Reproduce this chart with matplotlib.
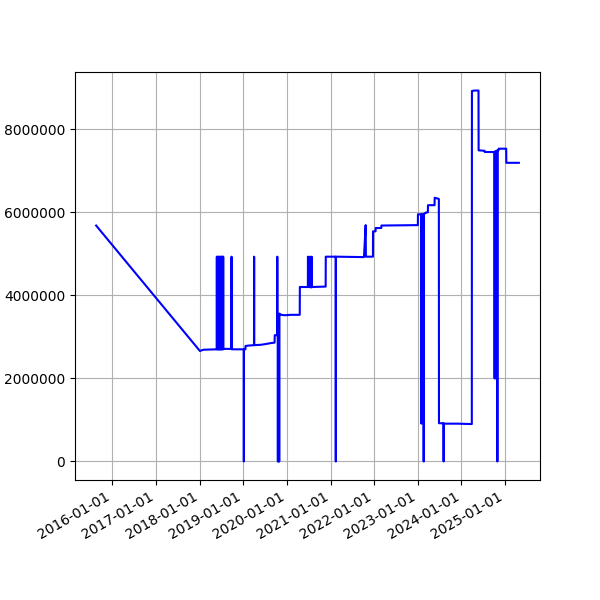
import pandas as pd
import matplotlib.pyplot as plt
import matplotlib.dates as mdates

# Price history (date, value)
dates = [
    '2015-08-18', '2018-01-03', '2018-02-01',
    '2018-05-24', '2018-05-25', '2018-05-26',
    '2018-06-01', '2018-06-02', '2018-06-03',
    '2018-06-09', '2018-06-10', '2018-06-11',
    '2018-06-17', '2018-06-18', '2018-06-19',
    '2018-06-25', '2018-06-26', '2018-06-27',
    '2018-07-03', '2018-07-04', '2018-07-05',
    '2018-07-11', '2018-07-12', '2018-07-13',
    '2018-07-16', '2018-07-17', '2018-07-18',
    '2018-09-24', '2018-09-25', '2018-09-26',
    '2019-01-05', '2019-01-06', '2019-01-07',
    '2019-01-19', '2019-01-20', '2019-02-15',
    '2019-04-01', '2019-04-02', '2019-04-03',
    '2019-06-01', '2019-07-15', '2019-08-20', '2019-09-20', '2019-09-22',
    '2019-10-12', '2019-10-13', '2019-10-14',
    '2019-10-17', '2019-10-18', '2019-10-19',
    '2019-10-23', '2019-10-24', '2019-10-25',
    '2019-10-28', '2019-10-29', '2019-10-30',
    '2019-11-15', '2019-12-15', '2020-02-01', '2020-04-18', '2020-04-19',
    '2020-06-25', '2020-06-26', '2020-06-27',
    '2020-07-10', '2020-07-11', '2020-07-12',
    '2020-07-26', '2020-07-27', '2020-07-28',
    '2020-11-21', '2020-11-22',
    '2021-02-13', '2021-02-14', '2021-02-15',
    '2021-10-08', '2021-10-22', '2021-10-24', '2021-12-22', '2021-12-23',
    '2022-01-13', '2022-01-14', '2022-03-02', '2022-03-03',
    '2023-01-02', '2023-01-03',
    '2023-01-31', '2023-02-01', '2023-02-02',
    '2023-02-19', '2023-02-20', '2023-02-21',
    '2023-03-07', '2023-03-08', '2023-03-27', '2023-03-28',
    '2023-05-22', '2023-05-23', '2023-06-27', '2023-06-28',
    '2023-08-05', '2023-08-06', '2023-08-07',
    '2023-12-01', '2024-03-29', '2024-03-30', '2024-04-22',
    '2024-05-24', '2024-05-25', '2024-07-14', '2024-07-15',
    '2024-10-05', '2024-10-06', '2024-10-07',
    '2024-10-13', '2024-10-14', '2024-10-15',
    '2024-10-21', '2024-10-22', '2024-10-23',
    '2024-10-28', '2024-10-29', '2024-10-30',
    '2024-11-08', '2024-11-09',
    '2025-01-11', '2025-01-12', '2025-04-27',
]
prices = [
    5680000, 2660000, 2690000,
    2700000, 4930000, 2700000,
    2700000, 4930000, 2700000,
    2700000, 4930000, 2700000,
    2700000, 4930000, 2700000,
    2700000, 4930000, 2700000,
    2700000, 4930000, 2700000,
    2700000, 4930000, 2700000,
    2700000, 4930000, 2710000,
    2710000, 4930000, 2700000,
    2700000, 0, 2700000,
    2700000, 2780000, 2790000,
    2800000, 4930000, 2800000,
    2810000, 2830000, 2850000, 2860000, 3040000,
    3040000, 4930000, 3550000,
    3550000, 0, 3550000,
    3550000, 0, 3550000,
    3550000, 0, 3560000,
    3530000, 3520000, 3530000, 3530000, 4200000,
    4200000, 4930000, 4200000,
    4200000, 4930000, 4200000,
    4190000, 4930000, 4200000,
    4210000, 4930000,
    4930000, 0, 4930000,
    4920000, 5690000, 4930000, 4930000, 5540000,
    5540000, 5620000, 5620000, 5680000,
    5690000, 5950000,
    5950000, 910000, 5950000,
    5950000, 0, 5960000,
    5980000, 5990000, 6000000, 6170000,
    6170000, 6350000, 6320000, 920000,
    920000, 0, 910000,
    910000, 900000, 8920000, 8930000,
    8930000, 7490000, 7480000, 7450000,
    7450000, 2000000, 7460000,
    7460000, 2000000, 7470000,
    7470000, 2000000, 7480000,
    7480000, 0, 7490000,
    7490000, 7530000,
    7530000, 7190000, 7190000,
]

dates = pd.to_datetime(dates)

fig, ax = plt.subplots(figsize=(6, 6), dpi=100)
ax.plot(dates, prices, color='blue', linewidth=1.5)

ax.xaxis.set_major_locator(mdates.YearLocator())
ax.xaxis.set_major_formatter(mdates.DateFormatter('%Y-%m-%d'))
ax.ticklabel_format(style='plain', axis='y')
ax.grid(True)
fig.autofmt_xdate()

fig.savefig('out.png')
